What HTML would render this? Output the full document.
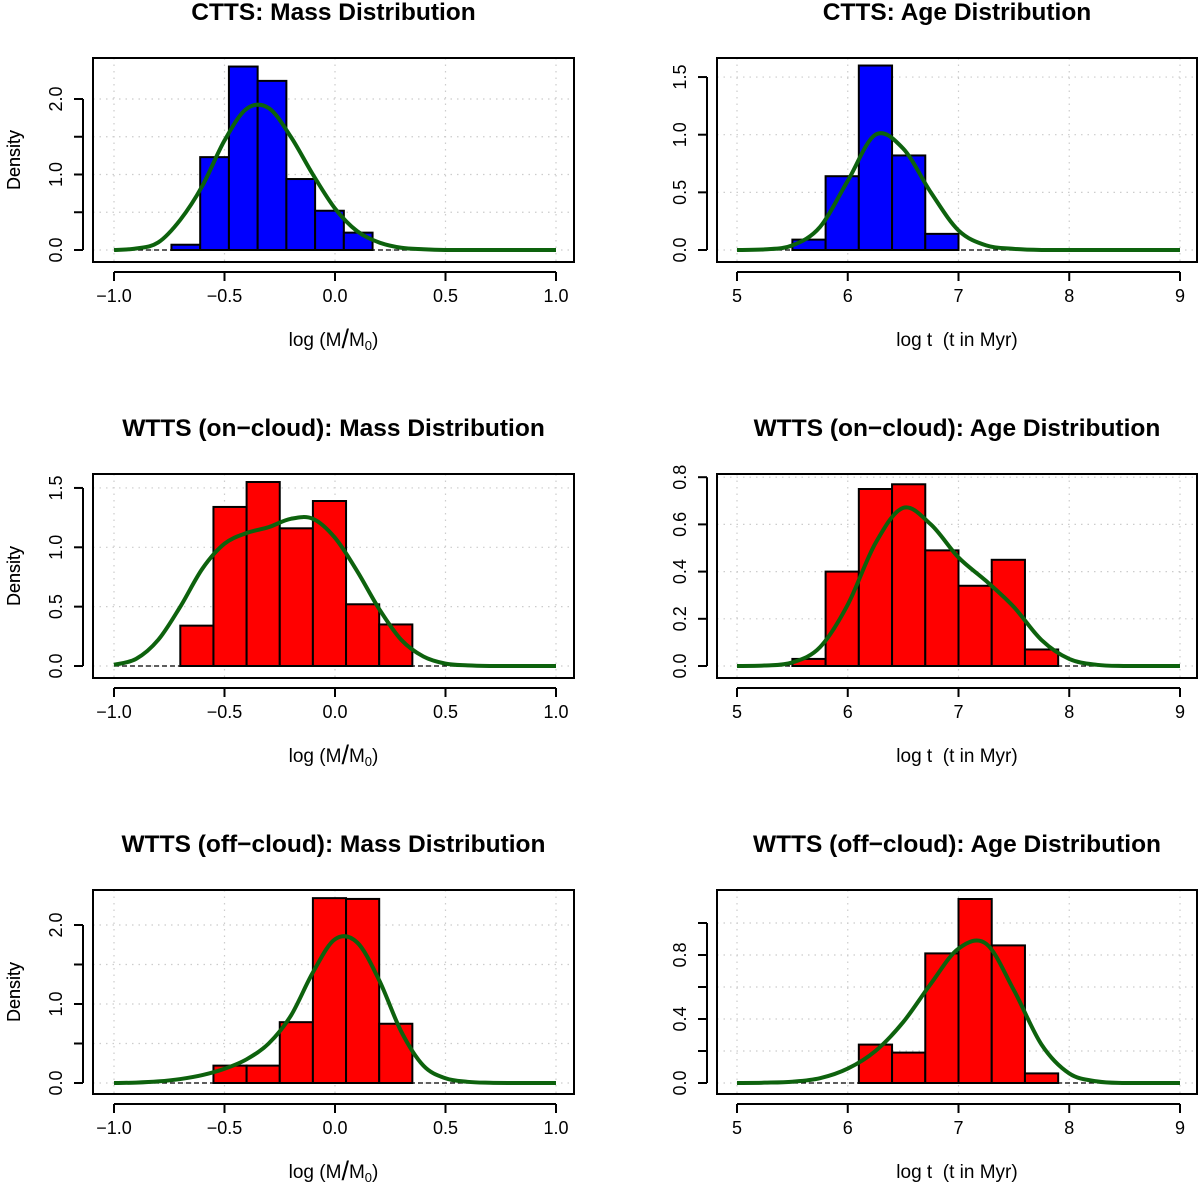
<!DOCTYPE html>
<html><head><meta charset="utf-8"><style>
html,body{margin:0;padding:0;background:#fff;}
svg{display:block;font-family:"Liberation Sans",Arial,sans-serif;}
</style></head><body>
<svg id="fig" width="1200" height="1184" viewBox="0 0 1200 1184" xmlns="http://www.w3.org/2000/svg"></svg>
<script>
// ---- data ----
const massEdges1 = [-0.74,-0.61,-0.48,-0.35,-0.22,-0.09,0.04,0.17];
const massCounts1 = [0.07,1.23,2.43,2.24,0.94,0.52,0.23];
const ageEdges1 = [5.5,5.8,6.1,6.4,6.7,7.0];
const ageCounts1 = [0.09,0.64,1.6,0.82,0.14];
const massEdges2 = [-0.7,-0.55,-0.4,-0.25,-0.1,0.05,0.2,0.35];
const massCounts2 = [0.34,1.34,1.55,1.16,1.39,0.52,0.35];
const ageEdges2 = [5.5,5.8,6.1,6.4,6.7,7.0,7.3,7.6,7.9];
const ageCounts2 = [0.03,0.40,0.75,0.77,0.49,0.34,0.45,0.07];
const massEdges3 = [-0.55,-0.4,-0.25,-0.1,0.05,0.2,0.35];
const massCounts3 = [0.22,0.22,0.77,2.34,2.33,0.75];
const ageEdges3 = [6.1,6.4,6.7,7.0,7.3,7.6,7.9];
const ageCounts3 = [0.24,0.19,0.81,1.15,0.86,0.06];

const massGrid = [-1,-0.9,-0.8,-0.7,-0.6,-0.5,-0.4,-0.3,-0.2,-0.1,0,0.1,0.2,0.3,0.4,0.5,0.6,0.7,0.8,0.9,1];
const ageGrid = [5,5.25,5.5,5.75,6,6.25,6.5,6.75,7,7.25,7.5,7.75,8,8.25,8.5,8.75,9];
const massKde1 = [0,0.02,0.1,0.4,0.85,1.45,1.87,1.88,1.5,1.0,0.55,0.25,0.1,0.03,0.01,0,0,0,0,0,0];
const ageKde1 = [0,0.005,0.04,0.2,0.6,1.0,0.88,0.5,0.17,0.04,0.01,0,0,0,0,0,0];
const massKde2 = [0.01,0.06,0.22,0.5,0.82,1.03,1.12,1.17,1.24,1.24,1.08,0.8,0.48,0.22,0.08,0.02,0.005,0,0,0,0];
const ageKde2 = [0,0.002,0.015,0.08,0.26,0.52,0.67,0.6,0.46,0.36,0.25,0.11,0.03,0.005,0,0,0];
const massKde3 = [0,0.005,0.02,0.05,0.1,0.18,0.3,0.5,0.85,1.4,1.82,1.78,1.3,0.65,0.22,0.06,0.015,0.003,0,0,0];
const ageKde3 = [0,0.002,0.008,0.03,0.09,0.2,0.38,0.62,0.84,0.87,0.58,0.24,0.06,0.01,0,0,0];

const massTicks = [-1,-0.5,0,0.5,1];
const massTickLabels = ["\u22121.0","\u22120.5","0.0","0.5","1.0"];
const ageTicks = [5,6,7,8,9];
const ageTickLabels = ["5","6","7","8","9"];

const NS="http://www.w3.org/2000/svg";
const svg=document.getElementById('fig');
function mk(tag,attrs,parent){const e=document.createElementNS(NS,tag);for(const k in attrs)e.setAttribute(k,attrs[k]);(parent||svg).appendChild(e);return e;}

function panel(o){
  const g=mk('g',{});
  
  
  const L=o.left,R=o.right,T=o.top,B=o.bottom;
  const sx=v=>o.x0px+(v-o.x0)*o.xs;
  const sy=v=>o.y0px-v*o.ys;
  const t=mk('text',{x:(L+R)/2,y:T-38,'text-anchor':'middle','font-size':24.5,'font-weight':'bold'},g);
  t.textContent=o.title;
  
  
  o.xticks.forEach(v=>{mk('line',{x1:sx(v),x2:sx(v),y1:T,y2:B,stroke:'#ccc','stroke-width':1.2,'stroke-dasharray':'1.5 5'},g);});
  o.yticks.forEach(v=>{mk('line',{x1:L,x2:R,y1:sy(v),y2:sy(v),stroke:'#ccc','stroke-width':1.2,'stroke-dasharray':'1.5 5'},g);});
  o.counts.forEach((c,i)=>{
    const r=mk('rect',{x:sx(o.edges[i]),y:sy(c),width:sx(o.edges[i+1])-sx(o.edges[i]),height:sy(0)-sy(c),fill:o.color,stroke:'#000','stroke-width':2},g);
    
    
  });
  mk('line',{x1:sx(o.grid[0]),x2:sx(o.grid[o.grid.length-1]),y1:sy(0),y2:sy(0),stroke:'#000','stroke-width':1.2,'stroke-dasharray':'5 3'},g);
  const pts=o.grid.map((v,i)=>[sx(v),sy(o.kde[i])]);
  let d='M'+pts[0][0]+','+pts[0][1];
  for(let i=0;i<pts.length-1;i++){
    const p0=pts[Math.max(0,i-1)],p1=pts[i],p2=pts[i+1],p3=pts[Math.min(pts.length-1,i+2)];
    const c1=[p1[0]+(p2[0]-p0[0])/6,p1[1]+(p2[1]-p0[1])/6];
    const c2=[p2[0]-(p3[0]-p1[0])/6,p2[1]-(p3[1]-p1[1])/6];
    d+=` C${c1[0]},${Math.min(c1[1],sy(0))} ${c2[0]},${Math.min(c2[1],sy(0))} ${p2[0]},${p2[1]}`;
  }
  const k=mk('path',{d:d,fill:'none',stroke:'#0d620d','stroke-width':4},g);
  
  
  mk('rect',{x:L,y:T,width:R-L,height:B-T,fill:'none',stroke:'#000','stroke-width':2},g);
  const ax=B+10;
  mk('line',{x1:sx(o.xticks[0]),x2:sx(o.xticks[o.xticks.length-1]),y1:ax,y2:ax,stroke:'#000','stroke-width':2},g);
  o.xticks.forEach((v,i)=>{
    mk('line',{x1:sx(v),x2:sx(v),y1:ax,y2:ax+9,stroke:'#000','stroke-width':2},g);
    const tl=mk('text',{x:sx(v),y:B+40,'text-anchor':'middle','font-size':18},g);
    tl.textContent=o.xlabels[i];
  });
  const ay=L-10;
  mk('line',{x1:ay,x2:ay,y1:sy(o.yticks[0]),y2:sy(o.yticks[o.yticks.length-1]),stroke:'#000','stroke-width':2},g);
  o.yticks.forEach((v,i)=>{
    mk('line',{x1:ay-9,x2:ay,y1:sy(v),y2:sy(v),stroke:'#000','stroke-width':2},g);
    if(o.ylabels[i]){
      const tl=mk('text',{x:0,y:0,'text-anchor':'middle','font-size':18,transform:`translate(${L-31},${sy(v)}) rotate(-90)`},g);
      tl.textContent=o.ylabels[i];
    }
  });
  const yl=mk('text',{'text-anchor':'middle','font-size':18,transform:`translate(${20},${(T+B)/2}) rotate(-90)`},g);
  yl.textContent='Density';
  
  
  const xl=mk('text',{x:(L+R)/2,y:B+84,'text-anchor':'middle','font-size':19},g);
  
  
  if(o.mass){xl.innerHTML='log (M<tspan font-size="27" dy="2">/</tspan><tspan dy="-2">M</tspan><tspan font-size="13" dy="4">0</tspan><tspan dy="-4">)</tspan>';}
  else xl.textContent='log t\u00a0\u00a0(t in Myr)';
}

const mL={left:93,right:574,x0:-1,x0px:114,xs:221,xticks:massTicks,xlabels:massTickLabels,grid:massGrid,mass:true};
const aL={left:717,right:1197,x0:5,x0px:737,xs:110.75,xticks:ageTicks,xlabels:ageTickLabels,grid:ageGrid,mass:false};
panel(Object.assign({},mL,{name:'ctts-mass-panel',title:'CTTS: Mass Distribution',top:58,bottom:262,y0px:250,ys:75.5,edges:massEdges1,counts:massCounts1,kde:massKde1,color:'#0000ff',yticks:[0,0.5,1,1.5,2],ylabels:['0.0','','1.0','','2.0']}));
panel(Object.assign({},aL,{name:'ctts-age-panel',title:'CTTS: Age Distribution',top:58,bottom:262,y0px:250,ys:115.3,edges:ageEdges1,counts:ageCounts1,kde:ageKde1,color:'#0000ff',yticks:[0,0.5,1,1.5],ylabels:['0.0','0.5','1.0','1.5']}));
panel(Object.assign({},mL,{name:'wtts-on-mass-panel',title:'WTTS (on\u2212cloud): Mass Distribution',top:474,bottom:678,y0px:666,ys:118.7,edges:massEdges2,counts:massCounts2,kde:massKde2,color:'#ff0000',yticks:[0,0.5,1,1.5],ylabels:['0.0','0.5','1.0','1.5']}));
panel(Object.assign({},aL,{name:'wtts-on-age-panel',title:'WTTS (on\u2212cloud): Age Distribution',top:474,bottom:678,y0px:666,ys:236,edges:ageEdges2,counts:ageCounts2,kde:ageKde2,color:'#ff0000',yticks:[0,0.2,0.4,0.6,0.8],ylabels:['0.0','0.2','0.4','0.6','0.8']}));
panel(Object.assign({},mL,{name:'wtts-off-mass-panel',title:'WTTS (off\u2212cloud): Mass Distribution',top:890,bottom:1094,y0px:1083,ys:79,edges:massEdges3,counts:massCounts3,kde:massKde3,color:'#ff0000',yticks:[0,0.5,1,1.5,2],ylabels:['0.0','','1.0','','2.0']}));
panel(Object.assign({},aL,{name:'wtts-off-age-panel',title:'WTTS (off\u2212cloud): Age Distribution',top:890,bottom:1094,y0px:1083,ys:160,edges:ageEdges3,counts:ageCounts3,kde:ageKde3,color:'#ff0000',yticks:[0,0.2,0.4,0.6,0.8,1.0],ylabels:['0.0','','0.4','','0.8','']}));
</script>
</body></html>
